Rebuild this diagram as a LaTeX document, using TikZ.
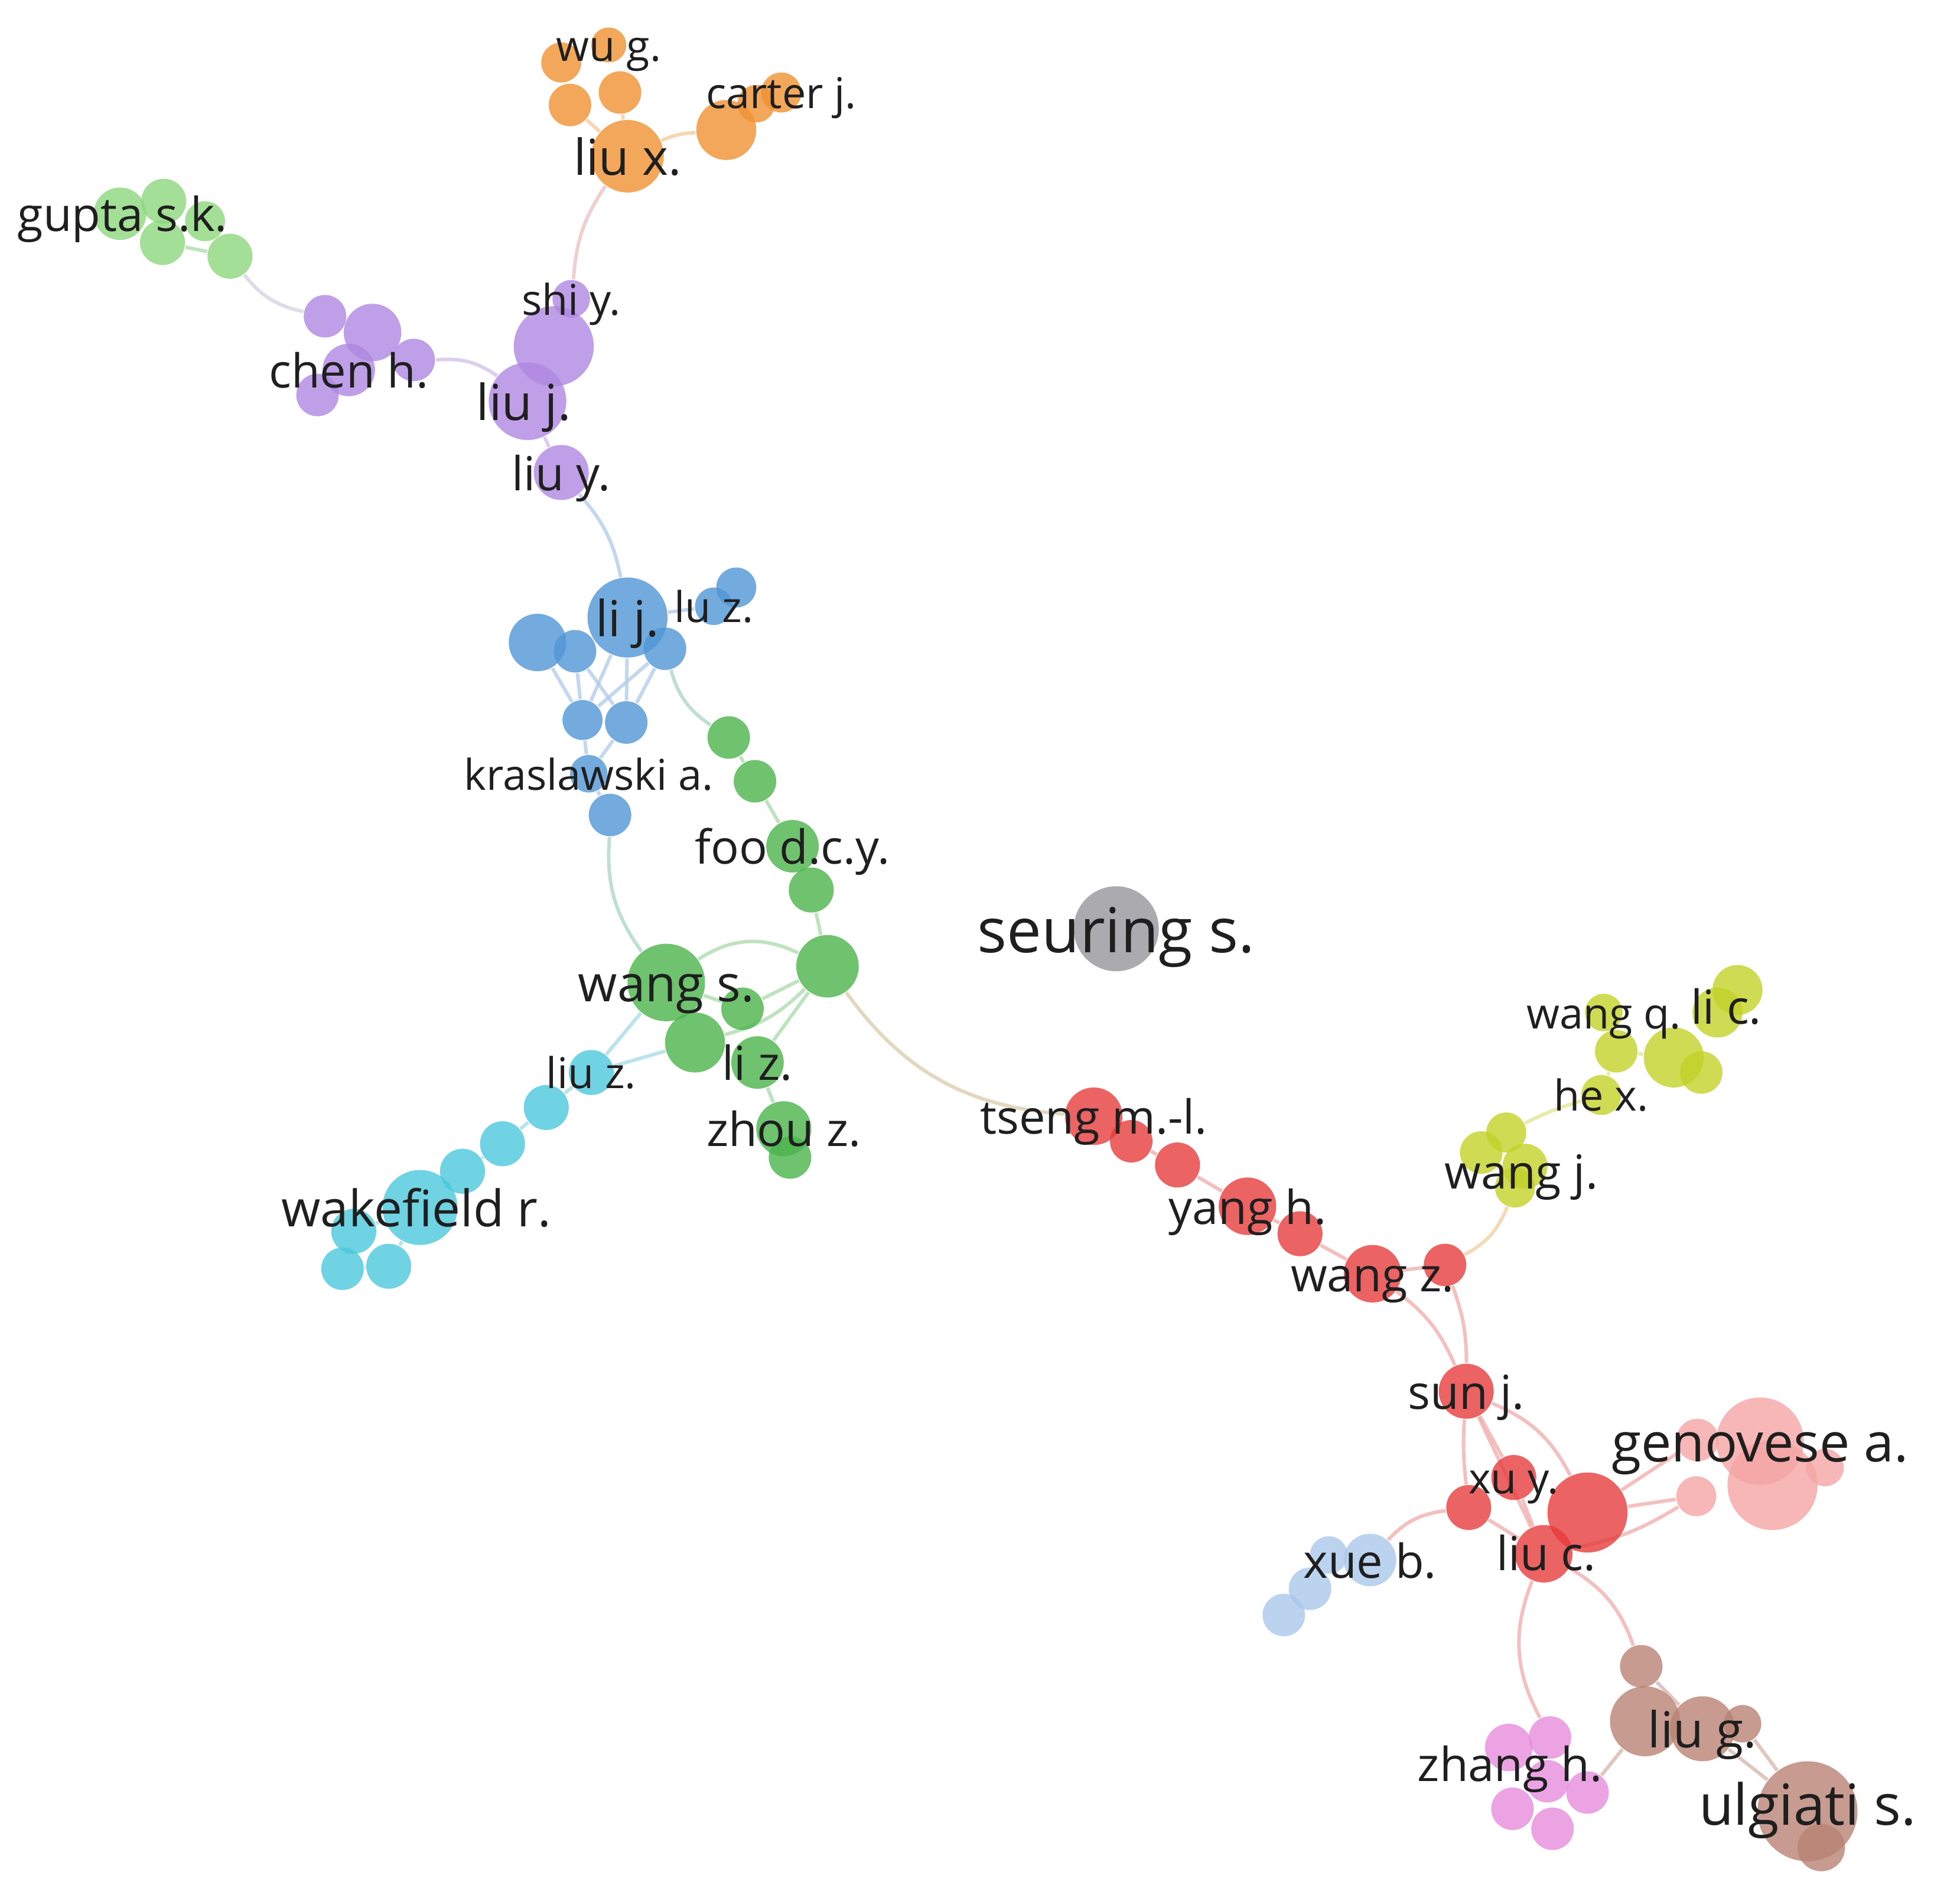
\documentclass[tikz,border=0pt]{standalone}
\usepackage{fontspec}
\setmainfont{Open Sans}
\pgfdeclarelayer{back}
\pgfdeclarelayer{bg}
\pgfsetlayers{back,bg,main}
\definecolor{cOr}{RGB}{241,145,50}
\definecolor{cPu}{RGB}{175,135,225}
\definecolor{cLg}{RGB}{140,215,125}
\definecolor{cBl}{RGB}{80,150,215}
\definecolor{cGr}{RGB}{75,180,75}
\definecolor{cCy}{RGB}{75,200,220}
\definecolor{cGy}{RGB}{150,150,155}
\definecolor{cRe}{RGB}{230,60,60}
\definecolor{cYe}{RGB}{195,210,40}
\definecolor{cPk}{RGB}{245,165,165}
\definecolor{cLb}{RGB}{170,200,235}
\definecolor{cBr}{RGB}{185,130,115}
\definecolor{cMa}{RGB}{230,140,220}
\definecolor{eR}{RGB}{240,175,175}
\definecolor{eG}{RGB}{175,220,175}
\definecolor{eB}{RGB}{180,205,235}
\definecolor{eP}{RGB}{210,195,235}
\definecolor{eO}{RGB}{245,205,160}
\definecolor{eC}{RGB}{170,220,230}
\definecolor{eY}{RGB}{225,230,150}
\definecolor{eBr}{RGB}{215,185,175}
\definecolor{eMx}{RGB}{220,205,175}
\definecolor{eOP}{RGB}{235,195,195}
\definecolor{eGP}{RGB}{215,210,225}
\definecolor{eBG}{RGB}{175,215,200}
\definecolor{eRY}{RGB}{240,210,165}
\begin{document}
\begin{tikzpicture}[x=0.1mm,y=-0.1mm,
  bub/.style={circle,inner sep=0pt,minimum size=2*#1*0.1mm,fill opacity=0.8},
  lab/.style={inner sep=0pt,text=black!88,text height=#1pt,text depth=0.24*#1pt,font=\fontsize{#1}{#1}\selectfont},
  labS/.style={lab=9.67},
  labM/.style={lab=10.67},
  labL/.style={lab=11.3},
  ed/.style={line width=0.8pt,draw=#1,draw opacity=0.8}]
\useasboundingbox (0,0) rectangle (1568,1518);
\begin{pgfonlayer}{back}
\fill[white] (0,0) rectangle (1568,1518);
\end{pgfonlayer}

% ---------- orange
\node[bub=16,fill=cOr] (o1) at (449,50) {};
\node[bub=14,fill=cOr] (o2) at (487,36) {};
\node[bub=17,fill=cOr] (o3) at (456,84) {};
\node[bub=17,fill=cOr] (o4) at (496,74) {};
\node[bub=29,fill=cOr] (liux) at (502,125) {};
\node[bub=24,fill=cOr] (car1) at (581,104) {};
\node[bub=15,fill=cOr] (car2) at (605,83) {};
\node[bub=16,fill=cOr] (car3) at (625,74) {};
% ---------- light green
\node[bub=21,fill=cLg] (g1) at (96,171) {};
\node[bub=18,fill=cLg] (g2) at (131,161) {};
\node[bub=18,fill=cLg] (g3) at (130,194) {};
\node[bub=16,fill=cLg] (g4) at (164,177) {};
\node[bub=18,fill=cLg] (g5) at (184,205) {};
% ---------- purple
\node[bub=17,fill=cPu] (p1) at (260,253) {};
\node[bub=23,fill=cPu] (p2) at (298,266) {};
\node[bub=21,fill=cPu] (p3) at (279,296) {};
\node[bub=17,fill=cPu] (p4) at (254,316) {};
\node[bub=17,fill=cPu] (p5) at (331,288) {};
\node[bub=15,fill=cPu] (shiy) at (457,239) {};
\node[bub=32,fill=cPu] (pbig) at (443,277) {};
\node[bub=31,fill=cPu] (liuj) at (422,321) {};
\node[bub=22,fill=cPu] (liuy) at (449,378) {};
% ---------- blue
\node[bub=32,fill=cBl] (lij) at (502,494) {};
\node[bub=23,fill=cBl] (b1) at (430,514) {};
\node[bub=17,fill=cBl] (b2) at (460,521) {};
\node[bub=17,fill=cBl] (b3) at (532,519) {};
\node[bub=15,fill=cBl] (luz1) at (571,485) {};
\node[bub=16,fill=cBl] (luz2) at (589,470) {};
\node[bub=16,fill=cBl] (b4) at (466,576) {};
\node[bub=17,fill=cBl] (b5) at (501,578) {};
\node[bub=15,fill=cBl] (b6) at (471,619) {};
\node[bub=17,fill=cBl] (b7) at (488,652) {};
% ---------- green
\node[bub=17,fill=cGr] (gr1) at (583,590) {};
\node[bub=17,fill=cGr] (gr2) at (604,625) {};
\node[bub=21,fill=cGr] (foo) at (634,677) {};
\node[bub=18,fill=cGr] (gr3) at (649,712) {};
\node[bub=25,fill=cGr] (gr4) at (662,773) {};
\node[bub=31,fill=cGr] (wangs) at (533,786) {};
\node[bub=17,fill=cGr] (gr5) at (594,807) {};
\node[bub=24,fill=cGr] (gr6) at (556,834) {};
\node[bub=21,fill=cGr] (liz) at (606,850) {};
\node[bub=22,fill=cGr] (zhou) at (627,903) {};
\node[bub=17,fill=cGr] (zhou2) at (632,926) {};
% ---------- cyan
\node[bub=18,fill=cCy] (liuz) at (473,858) {};
\node[bub=18,fill=cCy] (c1) at (437,886) {};
\node[bub=18,fill=cCy] (c2) at (402,915) {};
\node[bub=18,fill=cCy] (c3) at (370,937) {};
\node[bub=30,fill=cCy] (wakef) at (336,966) {};
\node[bub=18,fill=cCy] (c4) at (283,985) {};
\node[bub=17,fill=cCy] (c5) at (274,1015) {};
\node[bub=18,fill=cCy] (c6) at (311,1013) {};
% ---------- grey
\node[bub=34,fill=cGy] (seur) at (893,743) {};
% ---------- red
\node[bub=23,fill=cRe] (tseng) at (875,893) {};
\node[bub=17,fill=cRe] (r2) at (905,913) {};
\node[bub=18,fill=cRe] (r3) at (942,932) {};
\node[bub=23,fill=cRe] (yangh) at (998,965) {};
\node[bub=18,fill=cRe] (r5) at (1040,987) {};
\node[bub=23,fill=cRe] (wangz) at (1098,1019) {};
\node[bub=17,fill=cRe] (r7) at (1156,1012) {};
\node[bub=22,fill=cRe] (sunj) at (1173,1113) {};
\node[bub=18,fill=cRe] (xuy) at (1211,1182) {};
\node[bub=18,fill=cRe] (r10) at (1175,1206) {};
\node[bub=32,fill=cRe] (redbig) at (1270,1210) {};
\node[bub=23,fill=cRe] (liuc) at (1235,1243) {};
% ---------- pink
\node[bub=17,fill=cPk] (pk1) at (1358,1152) {};
\node[bub=36,fill=cPk] (pk3) at (1418,1188) {};
\node[bub=35,fill=cPk] (pk2) at (1408,1153) {};
\node[bub=16,fill=cPk] (pk4) at (1357,1197) {};
\node[bub=15,fill=cPk] (pk5) at (1460,1174) {};
% ---------- light blue
\node[bub=15,fill=cLb] (xu2) at (1063,1244) {};
\node[bub=17,fill=cLb] (xu3) at (1048,1271) {};
\node[bub=17,fill=cLb] (xu4) at (1027,1292) {};
\node[bub=21,fill=cLb] (xue) at (1096,1248) {};
% ---------- yellow
\node[bub=17,fill=cYe] (wj1) at (1185,922) {};
\node[bub=16,fill=cYe] (wj2) at (1205,906) {};
\node[bub=18,fill=cYe] (wj3) at (1220,933) {};
\node[bub=16,fill=cYe] (wj4) at (1212,950) {};
\node[bub=16,fill=cYe] (hex) at (1281,876) {};
\node[bub=15,fill=cYe] (wq1) at (1283,810) {};
\node[bub=17,fill=cYe] (wq2) at (1293,841) {};
\node[bub=24,fill=cYe] (y5) at (1339,846) {};
\node[bub=17,fill=cYe] (y6) at (1361,858) {};
\node[bub=20,fill=cYe] (lic1) at (1390,792) {};
\node[bub=20,fill=cYe] (lic2) at (1374,810) {};
% ---------- brown
\node[bub=17,fill=cBr] (br1) at (1313,1333) {};
\node[bub=28,fill=cBr] (br2) at (1316,1377) {};
\node[bub=26,fill=cBr] (br3) at (1362,1383) {};
\node[bub=15,fill=cBr] (br4) at (1394,1379) {};
\node[bub=40,fill=cBr] (ulg) at (1446,1449) {};
\node[bub=19,fill=cBr] (ulg2) at (1457,1478) {};
% ---------- magenta
\node[bub=19,fill=cMa] (zh1) at (1207,1398) {};
\node[bub=17,fill=cMa] (zh2) at (1240,1390) {};
\node[bub=17,fill=cMa] (zh3) at (1238,1425) {};
\node[bub=17,fill=cMa] (zh4) at (1270,1434) {};
\node[bub=17,fill=cMa] (zh5) at (1210,1447) {};
\node[bub=17,fill=cMa] (zh6) at (1242,1463) {};

% ---------- edges
\begin{pgfonlayer}{bg}
\draw[ed=eO] (liux) to[bend left=10] (car1);
\draw[ed=eO] (o3) -- (liux);
\draw[ed=eO] (o4) -- (liux);
\draw[ed=eO] (o1) -- (o3);
\draw[ed=eOP] (liux) to[bend right=15] (shiy);
\draw[ed=eG] (g3) -- (g5);
\draw[ed=eGP] (g5) to[bend right=20] (p1);
\draw[ed=eP] (p5) to[bend left=20] (liuj);
\draw[ed=eP] (liuj) -- (liuy);
\draw[ed=eB] (liuy) to[bend left=15] (lij);
\draw[ed=eB] (b2) -- (b4);
\draw[ed=eB] (b2) -- (b5);
\draw[ed=eB] (lij) -- (b4);
\draw[ed=eB] (lij) -- (b5);
\draw[ed=eB] (b3) -- (b4);
\draw[ed=eB] (b3) -- (b5);
\draw[ed=eB] (b1) -- (b4);
\draw[ed=eB] (b4) -- (b6);
\draw[ed=eB] (b5) -- (b6);
\draw[ed=eB] (b6) -- (b7);
\draw[ed=eB] (lij) -- (luz1);
\draw[ed=eBG] (b3) to[bend right=20] (gr1);
\draw[ed=eG] (gr1) -- (gr2);
\draw[ed=eG] (gr2) -- (foo);
\draw[ed=eG] (foo) -- (gr3);
\draw[ed=eG] (gr3) -- (gr4);
\draw[ed=eBG] (b7) to[bend right=20] (wangs);
\draw[ed=eG] (wangs) to[bend left=30] (gr4);
\draw[ed=eG] (wangs) -- (gr5);
\draw[ed=eG] (gr5) -- (gr4);
\draw[ed=eG] (gr6) to[bend right=15] (gr4);
\draw[ed=eG] (liz) -- (gr4);
\draw[ed=eG] (liz) -- (zhou);
\draw[ed=eG] (wangs) -- (gr6);
\draw[ed=eC] (wangs) -- (liuz);
\draw[ed=eC] (gr6) -- (liuz);
\draw[ed=eMx] (gr4) to[bend right=25] (tseng);
\draw[ed=eC] (liuz) -- (c1);
\draw[ed=eC] (c1) -- (c2);
\draw[ed=eC] (c2) -- (c3);
\draw[ed=eC] (c3) -- (wakef);
\draw[ed=eC] (wakef) -- (c4);
\draw[ed=eC] (c4) -- (c5);
\draw[ed=eC] (c5) -- (c6);
\draw[ed=eC] (wakef) -- (c6);
\draw[ed=eR] (tseng) -- (r2);
\draw[ed=eR] (r2) -- (r3);
\draw[ed=eR] (r3) -- (yangh);
\draw[ed=eR] (yangh) -- (r5);
\draw[ed=eR] (r5) -- (wangz);
\draw[ed=eR] (wangz) -- (r7);
\draw[ed=eRY] (r7) to[bend right=20] (wj4);
\draw[ed=eY] (wj2) to[bend left=5] (hex);
\draw[ed=eY] (hex) -- (wq2);
\draw[ed=eY] (wq2) -- (y5);
\draw[ed=eR] (wangz) to[bend left=15] (sunj);
\draw[ed=eR] (r7) to[bend left=10] (sunj);
\draw[ed=eR] (sunj) to[bend right=5] (r10);
\draw[ed=eR] (sunj) -- (xuy);
\draw[ed=eR] (sunj) -- (liuc);
\draw[ed=eR] (sunj) to[bend left=20] (redbig);
\draw[ed=eR] (r10) -- (liuc);
\draw[ed=eR] (xuy) -- (liuc);
\draw[ed=eR] (r10) to[bend right=20] (xue);
\draw[ed=eR] (redbig) -- (pk1);
\draw[ed=eR] (redbig) -- (pk4);
\draw[ed=eR] (liuc) to[bend right=10] (pk4);
\draw[ed=eR] (liuc) to[bend right=25] (zh2);
\draw[ed=eR] (liuc) to[bend left=20] (br1);
\draw[ed=eBr] (br1) -- (br2);
\draw[ed=eBr] (br1) -- (br3);
\draw[ed=eBr] (br3) -- (ulg);
\draw[ed=eBr] (br4) -- (ulg);
\draw[ed=eBr] (br2) -- (zh4);
\end{pgfonlayer}

% ---------- labels
\node[labS] (t-wug) at (o2) {wu g.};
\node[labS] (t-carter) at (car3) {carter j.};
\node[labL] (t-liux) at (liux) {liu x.};
\node[labM] (t-gupta) at (98,171) {gupta s.k.};
\node[labM] (t-chen) at (p3) {chen h.};
\node[labS] (t-shiy) at (shiy) {shi y.};
\node[labL] (t-liuj) at (419,321) {liu j.};
\node[labM] (t-liuy) at (liuy) {liu y.};
\node[labL] (t-lij) at (lij) {li j.};
\node[labS] (t-luz) at (luz1) {lu z.};
\node[labS] (t-kras) at (b6) {kraslawski a.};
\node[labM] (t-foo) at (foo) {foo d.c.y.};
\node[lab=11.47] (t-wangs) at (wangs) {wang s.};
\node[labS] (t-liuz) at (liuz) {liu z.};
\node[labM] (t-liz) at (liz) {li z.};
\node[labM] (t-zhou) at (zhou) {zhou z.};
\node[lab=11.47] (t-wakef) at (333,966) {wakefield r.};
\node[lab=14.1] (t-seur) at (seur) {seuring s.};
\node[labM] (t-tseng) at (tseng) {tseng m.-l.};
\node[labM] (t-yangh) at (yangh) {yang h.};
\node[labM] (t-wangz) at (wangz) {wang z.};
\node[labS] (t-wangq) at (wq1) {wang q.};
\node[labM] (t-lic) at (1381,805) {li c.};
\node[labS] (t-hex) at (hex) {he x.};
\node[labM] (t-wangj) at (1217,937) {wang j.};
\node[labM] (t-sunj) at (sunj) {sun j.};
\node[labS] (t-xuy) at (xuy) {xu y.};
\node[labM] (t-liuc) at (1237,1242) {liu c.};
\node[lab=12.3] (t-geno) at (pk2) {genovese a.};
\node[labM] (t-xue) at (xue) {xue b.};
\node[labL] (t-liug) at (br3) {liu g.};
\node[labM] (t-zhang) at (1208,1411) {zhang h.};
\node[lab=12.9] (t-ulg) at (1446,1443) {ulgiati s.};
\end{tikzpicture}
\end{document}
